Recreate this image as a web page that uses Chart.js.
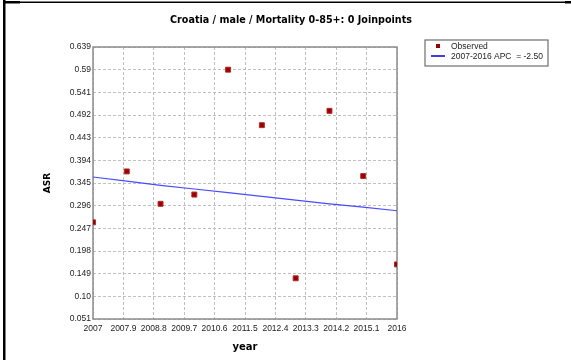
<!DOCTYPE html>
<html>
<head>
    <title>Croatia male mortality</title>
    <script src="https://cdn.jsdelivr.net/npm/chart.js"></script>
    <style>
        html, body { margin: 0; padding: 0; background: #fff; }
        #wrap { width: 571px; height: 360px; position: relative; }
    </style>
</head>
<body>
    <div id="wrap"><canvas id="chart" width="571" height="360"></canvas></div>

    <script>
    // observed ASR by year
    const years = [2007, 2008, 2009, 2010, 2011, 2012, 2013, 2014, 2015, 2016];
    const observed = [0.260, 0.370, 0.300, 0.320, 0.590, 0.470, 0.139, 0.501, 0.360, 0.169];
    // fitted joinpoint line (APC = -2.50)
    const fitted = [0.358, 0.349, 0.340, 0.332, 0.324, 0.316, 0.308, 0.300, 0.293, 0.285];

    const xTicks = ['2007', '2007.9', '2008.8', '2009.7', '2010.6', '2011.5', '2012.4', '2013.3', '2014.2', '2015.1', '2016'];
    const yTicks = ['0.051', '0.10', '0.149', '0.198', '0.247', '0.296', '0.345', '0.394', '0.443', '0.492', '0.541', '0.59', '0.639'];

    const titleText = 'Croatia / male / Mortality 0-85+: 0 Joinpoints';
    const legendLabels = ['Observed', '2007-2016 APC  = -2.50'];

    const dotColor = '#9a0000';
    const lineColor = '#4a4aff';
    const tickFont = { family: 'Liberation Sans, Arial, sans-serif', size: 8.5 };

    // frame, title, plot border and legend are drawn by hand
    const decorations = {
        id: 'decorations',
        beforeDatasetsDraw(chart) {
            const { ctx, chartArea: a } = chart;
            ctx.save();
            ctx.strokeStyle = '#8c8c8c';
            ctx.lineWidth = 1.5;
            ctx.strokeRect(a.left, a.top, a.right - a.left, a.bottom - a.top);
            ctx.restore();
        },
        afterDraw(chart) {
            const { ctx } = chart;
            ctx.save();
            // window frame
            ctx.fillStyle = '#000';
            ctx.fillRect(3, 0, 2.5, 360);
            ctx.fillRect(3, 1.5, 568, 1.5);
            ctx.fillRect(3, 1, 17, 2.5);
            ctx.fillRect(565, 1, 6, 2.5);

            // title
            ctx.fillStyle = '#000';
            ctx.font = 'bold 9.6px "DejaVu Sans", Verdana, sans-serif';
            ctx.textAlign = 'center';
            ctx.textBaseline = 'middle';
            ctx.fillText(titleText, 291, 20);

            // legend box
            const lx = 425, ly = 40, lw = 123, lh = 26;
            ctx.fillStyle = '#fff';
            ctx.fillRect(lx, ly, lw, lh);
            ctx.strokeStyle = '#6e6e6e';
            ctx.lineWidth = 1.2;
            ctx.strokeRect(lx, ly, lw, lh);

            const ds = chart.data.datasets;
            ctx.fillStyle = ds[0].backgroundColor;
            ctx.fillRect(lx + 11, ly + 4, 4, 4);
            ctx.strokeStyle = '#0000d0';
            ctx.lineWidth = 1.5;
            ctx.beginPath();
            ctx.moveTo(lx + 6, ly + 16);
            ctx.lineTo(lx + 20, ly + 16);
            ctx.stroke();

            ctx.fillStyle = '#222';
            ctx.font = '8.5px "Liberation Sans", Arial, sans-serif';
            ctx.textAlign = 'left';
            ctx.textBaseline = 'middle';
            ctx.fillText(legendLabels[0], lx + 26, ly + 7);
            ctx.fillText(legendLabels[1], lx + 26, ly + 17);
            ctx.restore();
        }
    };

    new Chart(document.getElementById('chart'), {
        type: 'scatter',
        data: {
            datasets: [{
                label: legendLabels[0],
                data: years.map((y, i) => ({ x: y, y: observed[i] })),
                pointStyle: 'rect',
                pointRadius: 3.5,
                backgroundColor: dotColor,
                borderColor: '#b42a2a',
                borderWidth: 1
            }, {
                label: legendLabels[1],
                type: 'line',
                data: years.map((y, i) => ({ x: y, y: fitted[i] })),
                borderColor: lineColor,
                borderWidth: 1.2,
                pointRadius: 0,
                fill: false,
                tension: 0
            }]
        },
        options: {
            responsive: false,
            animation: false,
            layout: { padding: { top: 47, right: 174, left: 0, bottom: 0 } },
            plugins: {
                legend: { display: false },
                title: { display: false },
                tooltip: { enabled: false }
            },
            scales: {
                x: {
                    type: 'linear',
                    min: 2007,
                    max: 2016,
                    afterBuildTicks: s => { s.ticks = xTicks.map(t => ({ value: parseFloat(t) })); },
                    afterFit: s => { s.height = 41; },
                    ticks: {
                        font: tickFont,
                        color: '#222',
                        padding: 5,
                        maxRotation: 0,
                        autoSkip: false,
                        callback: (v, i) => xTicks[i]
                    },
                    grid: {
                        color: '#c0c0c0',
                        lineWidth: 1,
                        drawTicks: false
                    },
                    border: { display: false, dash: [3, 2] },
                    title: {
                        display: true,
                        text: 'year',
                        font: { family: 'DejaVu Sans, Verdana, sans-serif', size: 10, weight: 'bold' },
                        color: '#000',
                        padding: { top: 0, bottom: 7 }
                    }
                },
                y: {
                    min: 0.051,
                    max: 0.639,
                    afterBuildTicks: s => { s.ticks = yTicks.map(t => ({ value: parseFloat(t) })); },
                    afterFit: s => { s.width = 93; },
                    ticks: {
                        font: tickFont,
                        color: '#222',
                        padding: 2,
                        autoSkip: false,
                        callback: (v, i) => yTicks[i]
                    },
                    grid: {
                        color: '#c0c0c0',
                        lineWidth: 1,
                        drawTicks: false
                    },
                    border: { display: false, dash: [3, 2] },
                    title: {
                        display: true,
                        text: 'ASR',
                        font: { family: 'DejaVu Sans, Verdana, sans-serif', size: 9, weight: 'bold' },
                        color: '#000',
                        padding: { top: 42, bottom: 0 }
                    }
                }
            }
        },
        plugins: [decorations]
    });
    </script>
</body>
</html>
